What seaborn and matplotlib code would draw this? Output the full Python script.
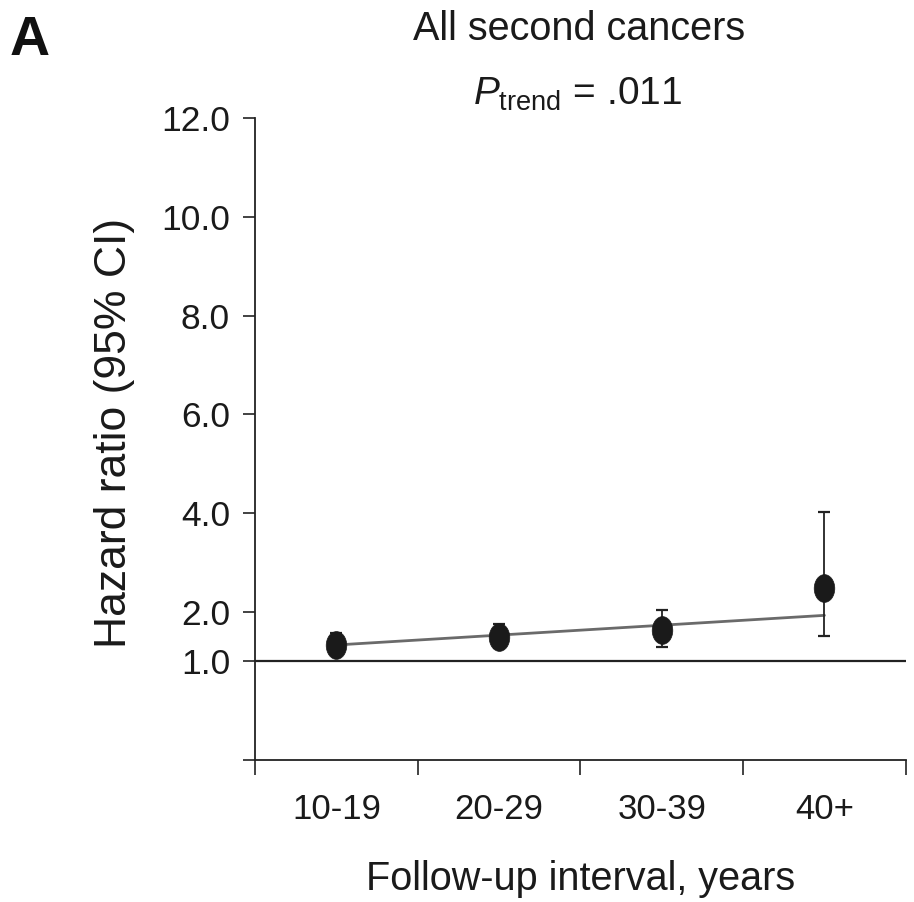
import matplotlib
matplotlib.use("Agg")
import matplotlib.pyplot as plt
from matplotlib.path import Path
from matplotlib.transforms import Affine2D
import seaborn as sns
import pandas as pd

intervals = ["10-19", "20-29", "30-39", "40+"]
hr = [1.33, 1.50, 1.63, 2.48]
ci_low = [1.12, 1.27, 1.28, 1.52]
ci_high = [1.58, 1.76, 2.03, 4.02]
trend = [1.33, 1.53, 1.73, 1.93]
ytick_vals = [-1.0, 1.0, 2.0, 4.0, 6.0, 8.0, 10.0, 12.0]
ytick_labels = ["", "1.0", "2.0", "4.0", "6.0", "8.0", "10.0", "12.0"]

sns.set_theme(style="ticks")
FAM = ["Liberation Sans", "DejaVu Sans"]
plt.rcParams["font.family"] = FAM
plt.rcParams["mathtext.fontset"] = "custom"
plt.rcParams["mathtext.rm"] = "Liberation Sans"
plt.rcParams["mathtext.it"] = "Liberation Sans:italic"

df = pd.DataFrame({"pos": [i + 0.5 for i in range(len(intervals))],
                   "hr": hr, "lo": ci_low, "hi": ci_high, "trend": trend})

# tall ellipse marker
ell = Path.unit_circle().transformed(Affine2D().scale(0.74, 1.0))

fig = plt.figure(figsize=(9.14, 9.02), dpi=100)
ax = fig.add_axes([0.279, 0.1574, 0.991 - 0.279, 0.869 - 0.1574])

ax.axhline(1.0, color="#222222", lw=1.6, zorder=1)
sns.lineplot(data=df, x="pos", y="trend", ax=ax, color="#6a6a6a", lw=2.0, zorder=2)
ax.errorbar(df["pos"], df["hr"], yerr=[df["hr"] - df["lo"], df["hi"] - df["hr"]],
            fmt="none", ecolor="#222222", elinewidth=1.3, capsize=4.5, capthick=1.6, zorder=3)
sns.scatterplot(data=df, x="pos", y="hr", ax=ax, color="#1a1a1a", s=400, marker=ell,
                edgecolor="#1a1a1a", linewidth=0.5, zorder=4)

ax.set_xlim(0, 4)
ax.set_ylim(-1.0, 12.0)
ax.set_xticks([0, 1, 2, 3, 4])
ax.set_xticklabels([])
ax.set_xticks(df["pos"], minor=True)
ax.set_xticklabels(intervals, minor=True)
ax.set_yticks(ytick_vals)
ax.set_yticklabels(ytick_labels)
ax.tick_params(axis="x", which="major", length=11, width=1.2, color="#222222")
ax.tick_params(axis="x", which="minor", length=0, pad=24, labelsize=25, labelcolor="#1a1a1a")
ax.tick_params(axis="y", length=9, width=1.2, color="#222222", labelsize=25.5, pad=9, labelcolor="#1a1a1a")
for s in ["left", "bottom"]:
    ax.spines[s].set_linewidth(1.3)
    ax.spines[s].set_color("#222222")
sns.despine(ax=ax)

ax.set_xlabel("Follow-up interval, years", fontsize=28.5, labelpad=24, color="#1a1a1a")
ax.set_ylabel("Hazard ratio (95% CI)", fontsize=32, color="#1a1a1a")
ax.yaxis.set_label_coords(-0.184, 0.51)

fig.text(0.634, 0.968, "All second cancers", ha="center", va="center", fontsize=28.5, color="#1a1a1a")
fig.text(0.632, 0.895, r"$\mathit{P}_{\mathrm{trend}}$ = .011", ha="center", va="center",
         fontsize=28, color="#1a1a1a")
fig.text(0.010, 0.955, "A", ha="left", va="center", fontsize=40, fontweight="bold", color="#111111")

fig.savefig("out.png", dpi=100)
